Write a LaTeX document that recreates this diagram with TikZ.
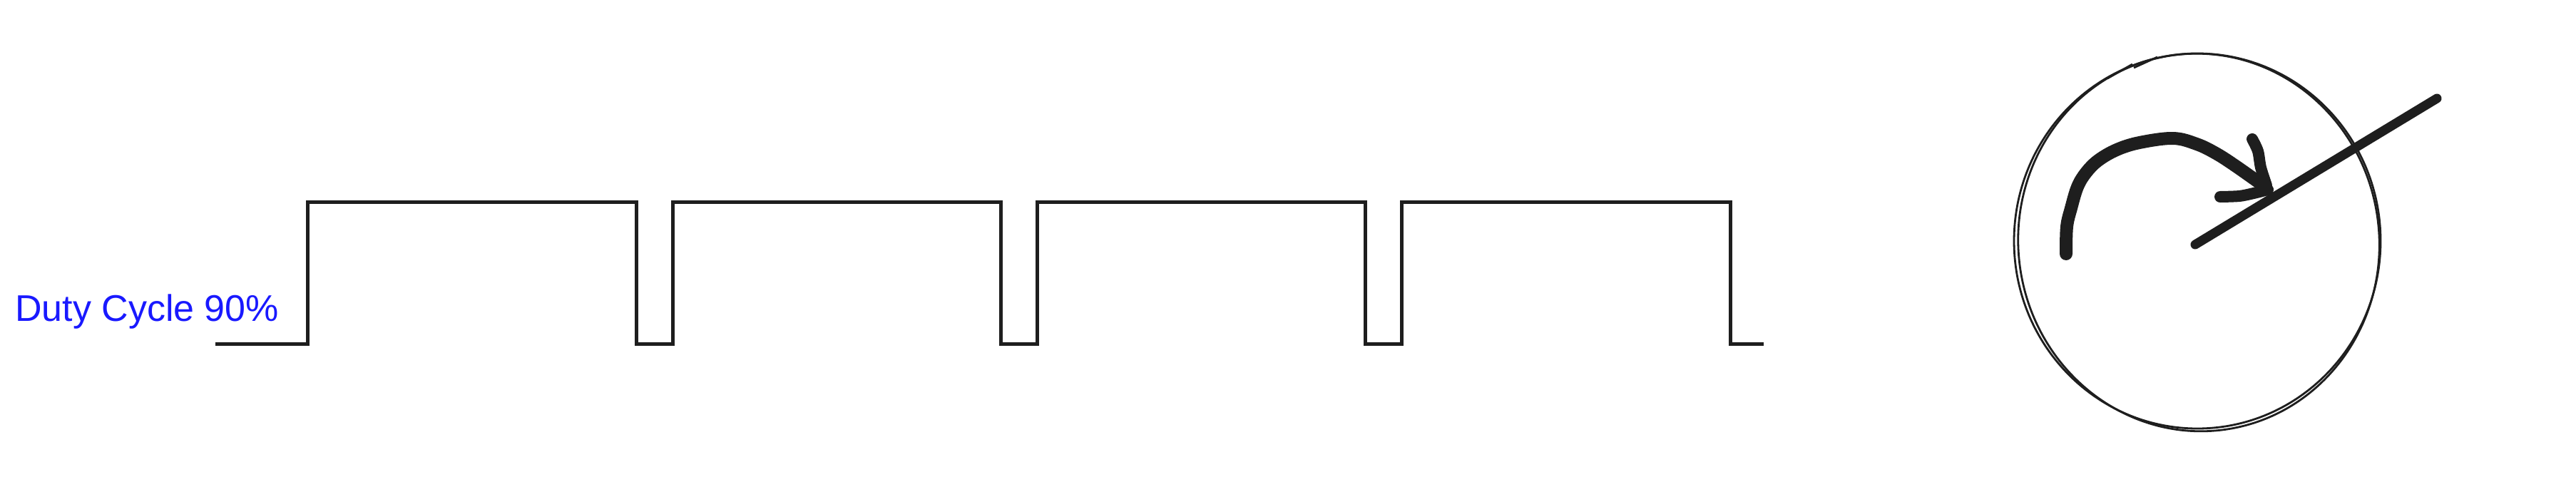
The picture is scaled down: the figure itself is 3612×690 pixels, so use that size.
\documentclass[tikz,border=0pt]{standalone}
\usepackage{fontspec}
\setmainfont{Liberation Sans}
\definecolor{ink}{HTML}{1E1E1E}
\definecolor{labelblue}{RGB}{25,25,255}
\tikzset{
  wave/.style={draw=ink, line width=5pt, line join=miter},
  sketch/.style={draw=ink, line width=2.8pt},
  heavy/.style={draw=ink, line width=18pt, line cap=round, line join=round},
  needle/.style={draw=ink, line width=13pt, line cap=round},
  caption/.style={text=labelblue, inner sep=0pt, font=\fontsize{52}{60}\selectfont}
}
\begin{document}
\begin{tikzpicture}[x=1pt,y=-1pt]
\useasboundingbox (0,0) rectangle (3612,690);
% label
\node[caption, anchor=base west] (label) at (21,450) {Duty Cycle 90\%};
% square wave
\draw[wave] (302,482) -- (431,482) -- (431,283) -- (892,283) -- (892,482)
  -- (943,482) -- (943,283) -- (1403,283) -- (1403,482)
  -- (1454,482) -- (1454,283) -- (1914,283) -- (1914,482)
  -- (1965,482) -- (1965,283) -- (2426,283) -- (2426,482) -- (2473,482);
% sketched dial circle
\draw[sketch] (3081,338) ellipse [x radius=257, y radius=263];
\draw[sketch, rotate around={8:(3083,340)}] (3083,340) ellipse [x radius=253, y radius=265];
\draw[sketch] (2955,110) -- (2990,90);
\draw[sketch] (2992,95) -- (3025,80);
% needle
\draw[needle] (3078,343) -- (3417,138);
% curved arrow
\draw[heavy] plot[smooth, tension=0.6] coordinates {
  (2897,356) (2898,318) (2904,292) (2913,262) (2925,242) (2942,225)
  (2968,210) (3000,200) (3047,194) (3080,202) (3107,215) (3135,233) (3176,262)};
\draw[heavy, line width=16pt] plot[smooth, tension=0.5] coordinates {
  (3158,195) (3166,212) (3170,235) (3178,260)};
\draw[heavy, line width=16pt] plot[smooth, tension=0.5] coordinates {
  (3113,276) (3140,275) (3160,271) (3180,266)};
\end{tikzpicture}
\end{document}
